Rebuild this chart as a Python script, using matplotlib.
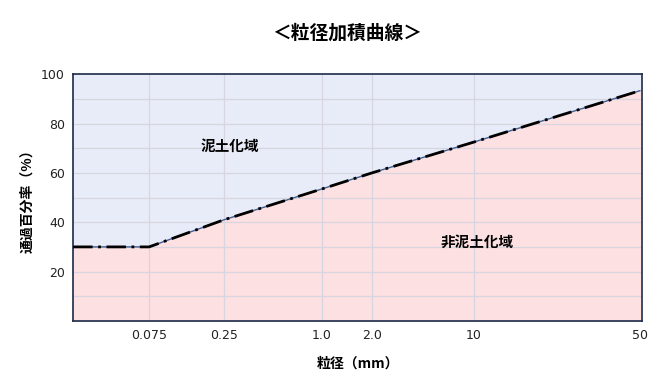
import matplotlib

matplotlib.use("Agg")
import matplotlib.pyplot as plt

plt.rcParams["font.family"] = ["Noto Sans CJK JP", "DejaVu Sans"]

# データ
sizes = ["0.075", "0.25", "1.0", "2.0", "10", "50"]
passing = [30, 30, 41, 53.5, 60, 72.5, 93.3]  # 左端 + 各粒径
tick_pos = [0, 76, 151, 249, 299, 401, 567]  # 横軸上の位置（左端含む）
y_ticks = [20, 40, 60, 80, 100]

fig = plt.figure(figsize=(6.59, 3.71), dpi=100)
ax = fig.add_axes([0.111, 0.135, 0.863, 0.665])

x_max = 569
ax.set_xlim(0, x_max)
ax.set_ylim(0, 100)

# 領域の塗り
ax.fill_between(tick_pos, passing, 100, color="#e8ecf8", zorder=0)
ax.fill_between(tick_pos, 0, passing, color="#fde0e2", zorder=0)

# グリッド
for y in range(10, 100, 10):
    ax.axhline(y, color="#d6d5e0", lw=0.9, zorder=1)
for x in tick_pos[1:-1]:
    ax.axvline(x, color="#d6d5e0", lw=0.9, zorder=1)

# 曲線
ax.plot(tick_pos, passing, color="#3f5f95", lw=1.0, zorder=2)
ax.plot(tick_pos, passing, color="black", lw=2.0, ls=(0, (7, 2, 1, 2)), zorder=3)

ax.set_xticks(tick_pos[1:])
ax.set_xticklabels(sizes, family=["DejaVu Sans"])
ax.set_yticks(y_ticks)
ax.set_yticklabels([str(v) for v in y_ticks], family=["DejaVu Sans"])
ax.tick_params(length=0, labelsize=9, pad=6, colors="#222222")

for s in ax.spines.values():
    s.set_color("#1c2a48")
    s.set_linewidth(1.2)

ax.text(157, 71, "泥土化域", fontsize=10.5, fontweight="bold", ha="center", va="center")
ax.text(404, 32, "非泥土化域", fontsize=10.5, fontweight="bold", ha="center", va="center")

ax.set_xlabel("粒径（mm）", fontsize=10, fontweight="bold", labelpad=10)
ax.set_ylabel("通過百分率（%）", fontsize=10, fontweight="bold", labelpad=5)

fig.text(0.527, 0.91, "＜粒径加積曲線＞", fontsize=13.5, fontweight="bold", ha="center", va="center")

fig.savefig("out.png", dpi=100)
